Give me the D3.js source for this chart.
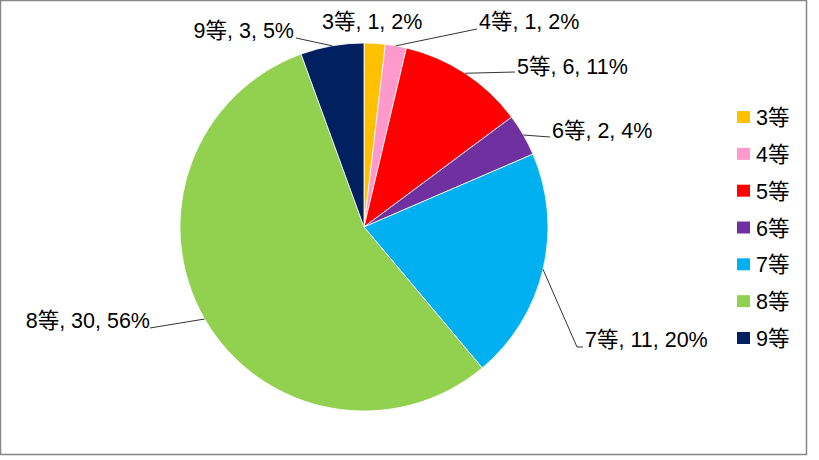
<!doctype html>
<html>
<head>
<meta charset="utf-8">
<style>
	body { margin: 0; background: #fff; }
	text { font-family: "Liberation Sans", "Noto Sans CJK JP", sans-serif; fill: #000; }
</style>
</head>
<body>
	<div class="figure"></div>

	<script src="https://d3js.org/d3.v7.min.js"></script>
	<script>
		// data
		let grades = ["3等", "4等", "5等", "6等", "7等", "8等", "9等"];
		let counts = [1, 1, 6, 2, 11, 30, 3];
		let percentLabels = ["2%", "2%", "11%", "4%", "20%", "56%", "5%"];
		let colors = ["#FFC000", "#FF99CC", "#FF0000", "#7030A0", "#00B0F0", "#92D050", "#002060"];

		// label placement (text x, baseline y, anchor, leader end x, y)
		let labelLayout = [
			{ x: 322, y: 29, anchor: "start", lx: null, ly: null },
			{ x: 479, y: 29, anchor: "start", lx: 477, ly: 29 },
			{ x: 517, y: 74, anchor: "start", lx: 515, ly: 72 },
			{ x: 552, y: 138, anchor: "start", lx: 550, ly: 137 },
			{ x: 585, y: 347, anchor: "start", lx: 577, ly: 347, hx: 583 },
			{ x: 150, y: 328, anchor: "end", lx: 150, ly: 328 },
			{ x: 294, y: 38, anchor: "end", lx: 296, ly: 38 }
		];

		let svg = d3.select(".figure")
			.append("svg")
			.attr("width", 819)
			.attr("height", 460);

		// chart border
		svg.append("rect")
			.attr("x", 0.5).attr("y", 0.5)
			.attr("width", 806).attr("height", 454)
			.attr("fill", "#fff")
			.attr("stroke", "#878787")
			.attr("stroke-width", 1.5);

		let cx = 364, cy = 227, R = 184;

		let pie = d3.pie().sort(null).value(d => d);
		let arcs = pie(counts);
		let arc = d3.arc().innerRadius(0).outerRadius(R);

		let g = svg.append("g").attr("transform", `translate(${cx},${cy})`);

		g.selectAll("path")
			.data(arcs)
			.enter()
			.append("path")
			.attr("d", arc)
			.attr("fill", (d, i) => colors[i])
			.attr("stroke", "#fff")
			.attr("stroke-width", 0.8);

		// leader lines
		arcs.forEach((d, i) => {
			let L = labelLayout[i];
			if (L.lx === null) return;
			let a = (d.startAngle + d.endAngle) / 2;
			let px = cx + R * Math.sin(a);
			let py = cy - R * Math.cos(a);
			let pts = [[px, py], [L.lx, L.ly]];
			if (L.hx) pts.push([L.hx, L.ly]);
			svg.append("path")
				.attr("d", d3.line()(pts))
				.attr("fill", "none")
				.attr("stroke", "#000")
				.attr("stroke-width", 0.8);
		});

		// data labels
		svg.selectAll("text.lbl")
			.data(arcs)
			.enter()
			.append("text")
			.attr("class", "lbl")
			.attr("x", (d, i) => labelLayout[i].x)
			.attr("y", (d, i) => labelLayout[i].y)
			.attr("text-anchor", (d, i) => labelLayout[i].anchor)
			.style("font-size", "21.5px")
			.text((d, i) => `${grades[i]}, ${counts[i]}, ${percentLabels[i]}`);

		// legend
		let legendY = d3.scalePoint().domain(grades).range([117, 338]);
		let lg = svg.append("g");
		grades.forEach((name, i) => {
			lg.append("rect")
				.attr("x", 737).attr("y", legendY(name) - 6)
				.attr("width", 13).attr("height", 12)
				.attr("fill", colors[i]);
			lg.append("text")
				.attr("x", 756).attr("y", legendY(name) + 8)
				.style("font-size", "21.5px")
				.text(name);
		});
	</script>
</body>
</html>
